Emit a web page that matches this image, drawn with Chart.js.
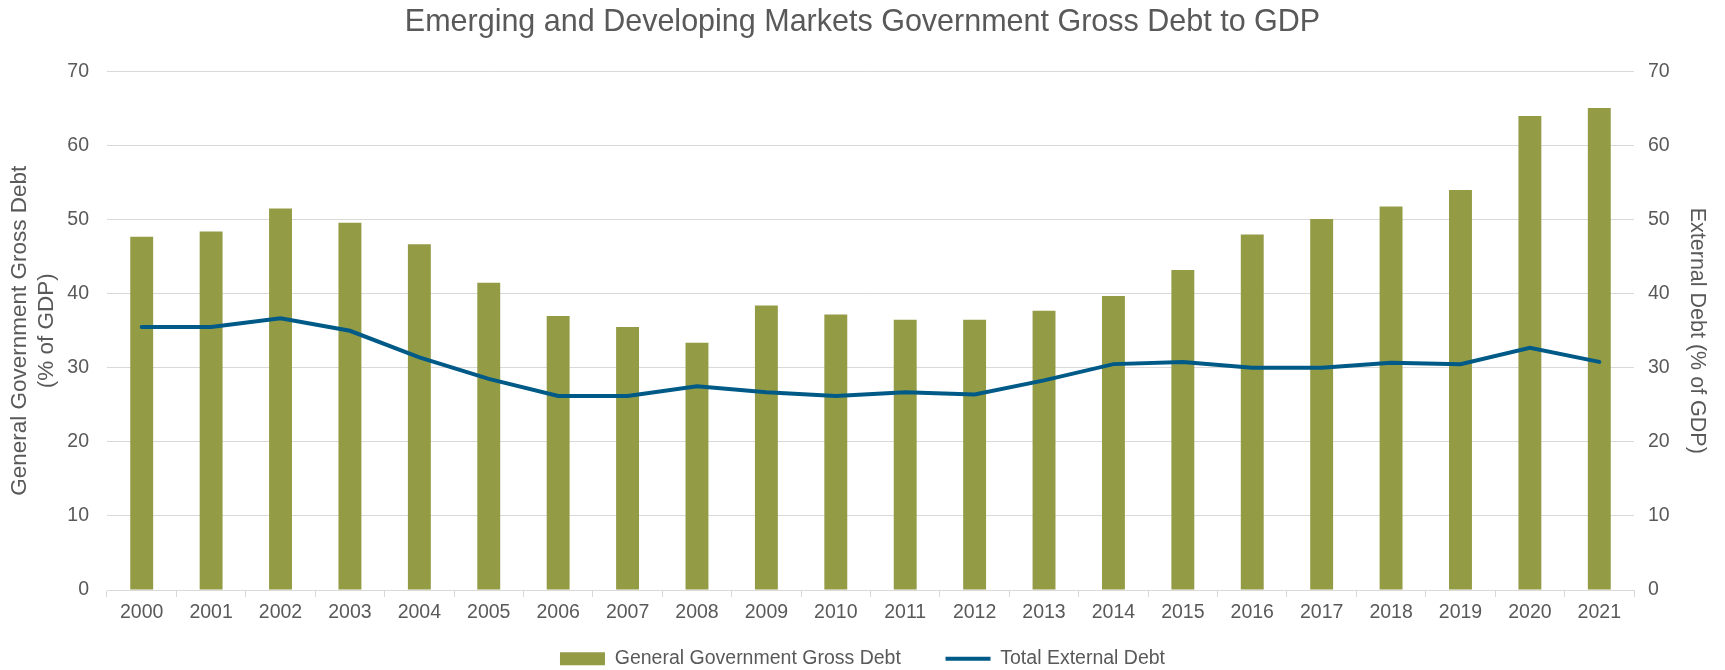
<!DOCTYPE html>
<html>
<head>
<meta charset="utf-8">
<script src="https://cdn.jsdelivr.net/npm/chart.js@4.4.1/dist/chart.umd.min.js"></script>
<style>
    html, body { margin: 0; padding: 0; background: #fff; }
    #wrap { width: 1725px; height: 670px; }
</style>
</head>
<body>
<div id="wrap"><canvas id="debtChart"></canvas></div>
<script>
// Data
const years = ['2000', '2001', '2002', '2003', '2004', '2005', '2006', '2007', '2008', '2009', '2010',
               '2011', '2012', '2013', '2014', '2015', '2016', '2017', '2018', '2019', '2020', '2021'];
const grossDebt = [47.7, 48.4, 51.5, 49.6, 46.7, 41.5, 37.0, 35.5, 33.4, 38.4, 37.2,
                   36.5, 36.5, 37.7, 39.7, 43.2, 48.0, 50.1, 51.8, 54.0, 64.0, 65.1];
const externalDebt = [35.5, 35.5, 36.7, 35.0, 31.4, 28.5, 26.2, 26.2, 27.5, 26.7, 26.2,
                      26.7, 26.4, 28.3, 30.5, 30.8, 30.0, 30.0, 30.7, 30.5, 32.7, 30.8];
const yTicks = [0, 10, 20, 30, 40, 50, 60, 70];

const textColor = '#595959';
const gridColor = '#d9d9d9';
Chart.defaults.font.family = '"Liberation Sans", Arial, sans-serif';
Chart.defaults.color = textColor;

// default legend items, with some extra room after the first one
function legendLabels(chart) {
    const items = Chart.defaults.plugins.legend.labels.generateLabels(chart);
    items.sort((a, b) => a.datasetIndex - b.datasetIndex);
    items[0].text += '    ';
    return items;
}

const ctx = document.getElementById('debtChart').getContext('2d');
const debtChart = new Chart(ctx, {
    type: 'bar',
    data: {
        labels: years,
        datasets: [{
            type: 'bar',
            label: 'General Government Gross Debt',
            data: grossDebt,
            backgroundColor: '#939b45',
            borderWidth: 0,
            barPercentage: 0.33,
            categoryPercentage: 1,
            pointStyle: 'rect',
            yAxisID: 'y',
            order: 1
        }, {
            type: 'line',
            label: 'Total External Debt',
            data: externalDebt,
            borderColor: '#005a87',
            backgroundColor: '#005a87',
            borderWidth: 4,
            pointRadius: 0,
            pointStyle: 'line',
            tension: 0,
            borderCapStyle: 'round',
            yAxisID: 'y1',
            order: 0
        }]
    },
    options: {
        responsive: true,
        maintainAspectRatio: false,
        animation: false,
        layout: { padding: { left: 0, right: 0, top: 0, bottom: -8.5 } },
        plugins: {
            title: {
                display: true,
                text: 'Emerging and Developing Markets Government Gross Debt to GDP',
                font: { size: 30.5, weight: 'normal' },
                color: textColor,
                padding: { top: 4, bottom: 31 }
            },
            legend: {
                position: 'bottom',
                labels: {
                    generateLabels: legendLabels,
                    usePointStyle: true,
                    pointStyleWidth: 45,
                    boxHeight: 13,
                    padding: 23,
                    font: { size: 19.5 },
                    color: textColor
                }
            },
            tooltip: { enabled: false }
        },
        scales: {
            x: {
                afterFit: axis => { axis.height = 36; },
                grid: { drawOnChartArea: false, drawTicks: true, tickLength: 7, color: gridColor, offset: true },
                border: { color: gridColor },
                ticks: { font: { size: 19.5 }, color: textColor, padding: 4, maxRotation: 0 }
            },
            y: {
                position: 'left',
                min: 0,
                max: 70,
                afterBuildTicks: axis => { axis.ticks = yTicks.map(v => ({ value: v })); },
                afterFit: axis => { axis.width = 107; },
                grid: { color: gridColor, drawTicks: false },
                border: { display: false },
                ticks: { font: { size: 19.5 }, color: textColor, padding: 18 },
                title: {
                    display: true,
                    text: ['General Government Gross Debt', '(% of GDP)'],
                    font: { size: 22.5 },
                    color: textColor,
                    padding: { top: 6, bottom: 0 }
                }
            },
            y1: {
                position: 'right',
                min: 0,
                max: 70,
                afterBuildTicks: axis => { axis.ticks = yTicks.map(v => ({ value: v })); },
                afterFit: axis => { axis.width = 91; },
                grid: { drawOnChartArea: false, drawTicks: false },
                border: { display: false },
                ticks: { font: { size: 19.5 }, color: textColor, padding: 14 },
                title: {
                    display: true,
                    text: 'External Debt (% of GDP)',
                    font: { size: 21.5 },
                    color: textColor,
                    padding: { top: 15, bottom: 0 }
                }
            }
        }
    }
});
</script>
</body>
</html>
